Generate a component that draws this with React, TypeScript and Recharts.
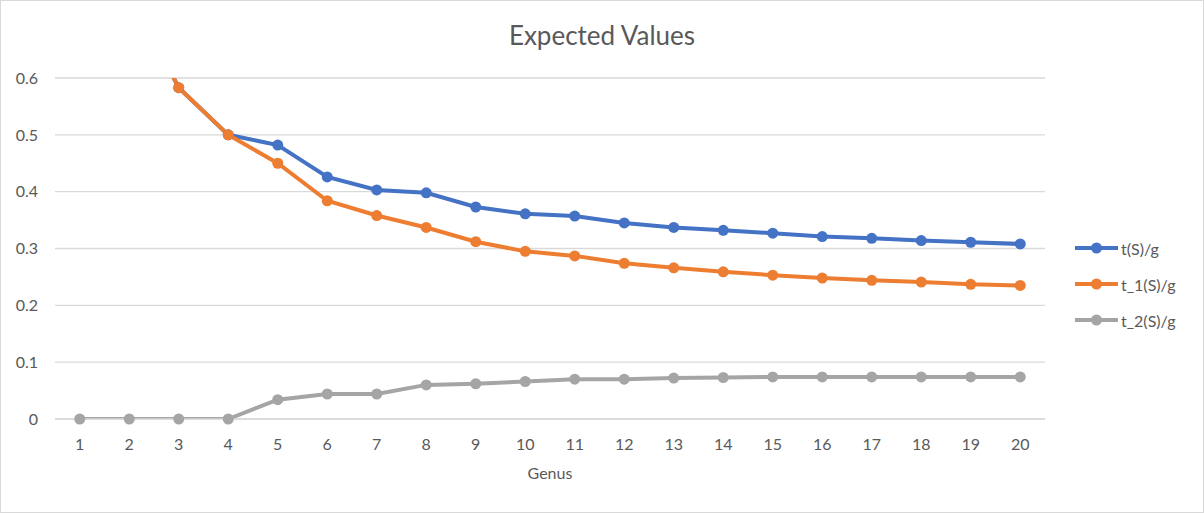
import React from "react";
import { CartesianGrid, Line, LineChart, XAxis, YAxis } from "recharts";

document.body.style.margin = "0";

const genus = [1, 2, 3, 4, 5, 6, 7, 8, 9, 10, 11, 12, 13, 14, 15, 16, 17, 18, 19, 20];
const tS = [1.0, 0.75, 0.583, 0.5, 0.482, 0.426, 0.403, 0.398, 0.373, 0.361, 0.357, 0.345, 0.337, 0.332, 0.327, 0.321, 0.318, 0.314, 0.311, 0.308];
const t1S = [1.0, 0.75, 0.583, 0.5, 0.45, 0.384, 0.358, 0.337, 0.312, 0.295, 0.287, 0.274, 0.266, 0.259, 0.253, 0.248, 0.244, 0.241, 0.237, 0.235];
const t2S = [0, 0, 0, 0, 0.034, 0.044, 0.044, 0.06, 0.062, 0.066, 0.07, 0.07, 0.072, 0.073, 0.074, 0.074, 0.074, 0.074, 0.074, 0.074];
const yTicks = [0, 0.1, 0.2, 0.3, 0.4, 0.5, 0.6];

const SERIES = [
  { key: "tS", name: "t(S)/g", color: "#4472C4" },
  { key: "t1S", name: "t_1(S)/g", color: "#ED7D31" },
  { key: "t2S", name: "t_2(S)/g", color: "#A5A5A5" },
];

const FONT = "Lato, 'Open Sans', sans-serif";
const TEXT = "#595959";

const data = genus.map((g, i) => ({ genus: g, tS: tS[i], t1S: t1S[i], t2S: t2S[i] }));

function LegendBox() {
  return (
    <div
      style={{
        position: "absolute",
        left: 1074,
        top: 230,
        fontFamily: FONT,
        fontSize: 16,
        color: TEXT,
      }}
    >
      {SERIES.map((s) => (
        <div key={s.key} style={{ display: "flex", alignItems: "center", height: 36 }}>
          <svg width={46} height={12}>
            <line x1={1} y1={6} x2={44} y2={6} stroke={s.color} strokeWidth={4} />
            <circle cx={22.5} cy={6} r={5.5} fill={s.color} />
          </svg>
          <span style={{ marginLeft: 1 }}>{s.name}</span>
        </div>
      ))}
    </div>
  );
}

export default function App() {
  return (
    <div style={{ position: "relative", width: 1204, height: 513, background: "#fff" }}>
      <div
        style={{
          position: "absolute",
          inset: 0,
          border: "1px solid #d9d9d9",
          boxSizing: "border-box",
          pointerEvents: "none",
        }}
      />
      <div
        style={{
          position: "absolute",
          top: 19,
          left: 0,
          width: 1204,
          textAlign: "center",
          fontFamily: FONT,
          fontSize: 26,
          color: TEXT,
        }}
      >
        Expected Values
      </div>
      <LineChart width={1204} height={513} data={data} margin={{ top: 78, right: 159, left: 0, bottom: 0 }}>
        <CartesianGrid vertical={false} stroke="#d9d9d9" strokeWidth={1.3} />
        <XAxis
          dataKey="genus"
          height={94}
          padding={{ left: 24.75, right: 24.75 }}
          tickLine={false}
          axisLine={{ stroke: "#d9d9d9", strokeWidth: 1.3 }}
          tickMargin={14}
          tick={{ fill: TEXT, fontSize: 16, fontFamily: FONT }}
          interval={0}
          label={{ value: "Genus", position: "insideBottom", offset: 34, fill: TEXT, fontSize: 16, fontFamily: FONT }}
        />
        <YAxis
          width={55}
          domain={[0, 0.6]}
          ticks={yTicks}
          allowDataOverflow
          tickLine={false}
          axisLine={false}
          tickMargin={11}
          tick={{ fill: TEXT, fontSize: 16, fontFamily: FONT }}
        />
        {SERIES.map((s) => (
          <Line
            key={s.key}
            dataKey={s.key}
            name={s.name}
            stroke={s.color}
            strokeWidth={4}
            dot={{ r: 5.5, fill: s.color, stroke: "none", clipDot: false }}
            activeDot={false}
            isAnimationActive={false}
          />
        ))}
      </LineChart>
      <LegendBox />
    </div>
  );
}
